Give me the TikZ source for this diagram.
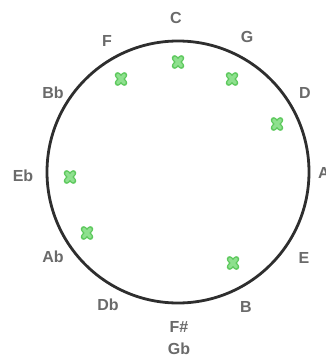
\documentclass[tikz,border=0pt]{standalone}
\usepackage{fontspec}
\setmainfont{Liberation Sans}
\usetikzlibrary{calc}
\begin{document}
\begin{tikzpicture}[x=1pt,y=-1pt,
  notelabel/.style={font=\fontsize{16}{20}\selectfont\bfseries, text=labelgray, inner sep=0pt, align=center},
  ring/.style={draw=ringgray, line width=2.8pt},
  xouter/.style={draw=markdark, line width=6pt, line cap=round},
  xinner/.style={draw=marklight, line width=3.4pt, line cap=round}]
\definecolor{labelgray}{HTML}{6A6A6A}
\definecolor{ringgray}{HTML}{2E2E2E}
\definecolor{markdark}{HTML}{5CC85C}
\definecolor{marklight}{HTML}{8EE08E}
\useasboundingbox (0,0) rectangle (326,361);
\node[circle, ring, minimum size=262pt, inner sep=0pt] (ring) at (178,172) {};
% labels
\node[notelabel] (LC)  at (176,18)  {C};
\node[notelabel] (LG)  at (247,37)  {G};
\node[notelabel] (LD)  at (305,93)  {D};
\node[notelabel] (LA)  at (324,173) {A};
\node[notelabel] (LE)  at (304,258) {E};
\node[notelabel] (LB)  at (246,307) {B};
\node[notelabel] (LFs) at (179,338) {F\#\\[2pt]Gb};
\node[notelabel] (LDb) at (108,305) {Db};
\node[notelabel] (LAb) at (53,257)  {Ab};
\node[notelabel] (LEb) at (23,176)  {Eb};
\node[notelabel] (LBb) at (53,93)   {Bb};
\node[notelabel] (LF)  at (107,41)  {F};
% markers
\foreach \p/\x/\y in {C/178/62, F/121/79, G/232/79, D/277/124, Eb/70/177, Ab/87/233, B/233/263}{
  \coordinate (M\p) at (\x,\y);
  \draw[xouter] ($(M\p)+(-3.3,-3.9)$) -- ($(M\p)+(3.3,3.9)$) ($(M\p)+(-3.3,3.9)$) -- ($(M\p)+(3.3,-3.9)$);
  \draw[xinner] ($(M\p)+(-3.3,-3.9)$) -- ($(M\p)+(3.3,3.9)$) ($(M\p)+(-3.3,3.9)$) -- ($(M\p)+(3.3,-3.9)$);
}
\end{tikzpicture}
\end{document}
